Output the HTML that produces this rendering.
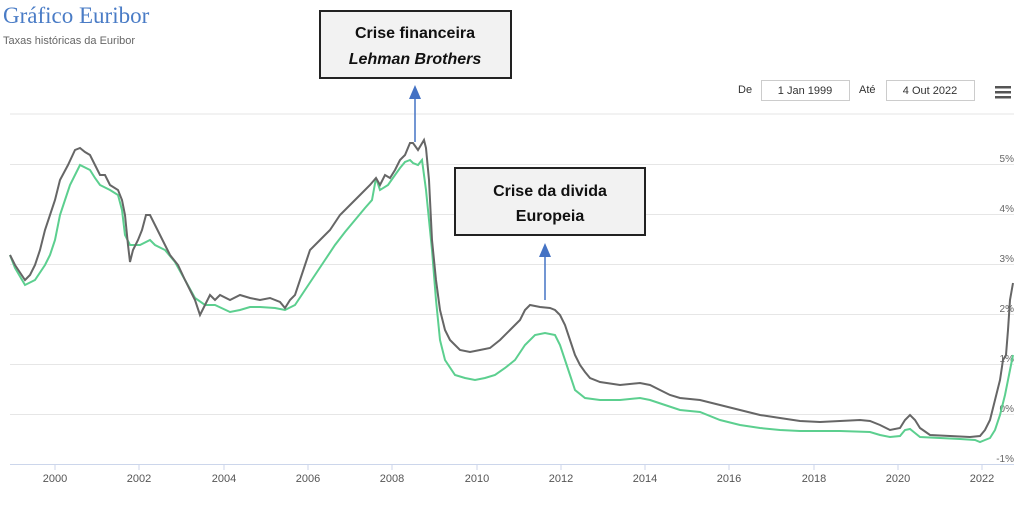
<!DOCTYPE html><html><head><style>body{margin:0;background:#fff;width:1024px;height:500px;overflow:hidden;font-family:"Liberation Sans",sans-serif}</style></head><body>
<svg width="1024" height="500" xmlns="http://www.w3.org/2000/svg" font-family="Liberation Sans, sans-serif">
<text x="3" y="23" font-family="Liberation Serif, serif" font-size="23" fill="#4a7cc6">Gráfico Euribor</text>
<text x="3" y="44" font-size="11" fill="#666">Taxas históricas da Euribor</text>
<text x="738" y="93" font-size="11" fill="#333">De</text>
<rect x="761.5" y="80.5" width="88" height="20" fill="#fff" stroke="#ccc"/>
<text x="805" y="94" font-size="11" fill="#333" text-anchor="middle">1 Jan 1999</text>
<text x="859" y="93" font-size="11" fill="#333">Até</text>
<rect x="886.5" y="80.5" width="88" height="20" fill="#fff" stroke="#ccc"/>
<text x="930" y="94" font-size="11" fill="#333" text-anchor="middle">4 Out 2022</text>
<g fill="#555"><rect x="995" y="86" width="16" height="2.5"/><rect x="995" y="91" width="16" height="2.5"/><rect x="995" y="96" width="16" height="2.5"/></g>
<g stroke="#e6e6e6" stroke-width="1"><line x1="10" y1="114" x2="1014" y2="114"/><line x1="10" y1="164.5" x2="1014" y2="164.5"/><line x1="10" y1="214.5" x2="1014" y2="214.5"/><line x1="10" y1="264.5" x2="1014" y2="264.5"/><line x1="10" y1="314.5" x2="1014" y2="314.5"/><line x1="10" y1="364.5" x2="1014" y2="364.5"/><line x1="10" y1="414.5" x2="1014" y2="414.5"/></g>
<line x1="10" y1="464.5" x2="1014" y2="464.5" stroke="#ccd6eb"/>
<g font-size="10" fill="#666" text-anchor="end"><text x="1014" y="162">5%</text><text x="1014" y="212">4%</text><text x="1014" y="262">3%</text><text x="1014" y="312">2%</text><text x="1014" y="362">1%</text><text x="1014" y="412">0%</text><text x="1014" y="462">-1%</text></g>
<g font-size="11" fill="#555" text-anchor="middle"><text x="55" y="482">2000</text><text x="139" y="482">2002</text><text x="224" y="482">2004</text><text x="308" y="482">2006</text><text x="392" y="482">2008</text><text x="477" y="482">2010</text><text x="561" y="482">2012</text><text x="645" y="482">2014</text><text x="729" y="482">2016</text><text x="814" y="482">2018</text><text x="898" y="482">2020</text><text x="982" y="482">2022</text></g>
<g stroke="#ccd6eb"><line x1="55" y1="465" x2="55" y2="470"/><line x1="139" y1="465" x2="139" y2="470"/><line x1="224" y1="465" x2="224" y2="470"/><line x1="308" y1="465" x2="308" y2="470"/><line x1="392" y1="465" x2="392" y2="470"/><line x1="477" y1="465" x2="477" y2="470"/><line x1="561" y1="465" x2="561" y2="470"/><line x1="645" y1="465" x2="645" y2="470"/><line x1="729" y1="465" x2="729" y2="470"/><line x1="814" y1="465" x2="814" y2="470"/><line x1="898" y1="465" x2="898" y2="470"/><line x1="982" y1="465" x2="982" y2="470"/></g>
<polyline fill="none" stroke="#5ccf8f" stroke-width="2" points="10,255 15,268 25,285 35,280 45,265 50,255 55,240 60,215 65,200 70,185 80,165 90,170 95,178 100,185 110,190 118,195 122,210 125,235 130,245 140,245 150,240 155,245 165,250 175,262 185,280 195,298 205,305 215,305 230,312 240,310 250,307 260,307 275,308 285,310 295,305 305,290 315,275 325,260 335,245 345,232 355,220 365,208 372,200 376,178 380,190 388,185 395,175 400,168 405,162 410,160 413,163 418,165 422,160 426,190 432,250 436,300 440,340 445,360 455,375 465,378 475,380 485,378 495,375 505,368 515,360 525,345 535,335 545,333 555,335 560,345 565,360 570,375 575,390 585,398 600,400 620,400 640,398 650,400 665,405 680,410 700,412 720,420 740,425 760,428 780,430 800,431 840,431 870,432 880,435 890,437 900,436 905,430 910,429 915,433 920,437 940,438 960,439 975,440 980,442 985,440 990,438 995,430 1000,415 1005,395 1010,370 1013,355"/>
<polyline fill="none" stroke="#666" stroke-width="2" points="10,255 15,265 25,280 30,275 35,265 40,250 45,230 50,215 55,200 60,180 68,165 75,150 80,148 85,152 90,155 95,165 100,175 105,175 110,185 118,190 122,200 125,215 128,245 130,262 133,250 138,240 142,230 146,215 150,215 155,225 160,235 165,245 170,255 178,265 185,280 190,290 195,300 200,315 205,305 210,295 215,300 220,295 230,300 240,295 250,298 260,300 270,298 280,302 285,308 290,300 295,295 300,280 305,265 310,250 320,240 330,230 340,215 350,205 360,195 370,185 376,178 380,185 385,175 390,178 395,170 400,160 405,155 410,143 413,143 418,150 424,140 426,148 429,180 432,240 436,280 440,310 445,330 450,340 455,345 460,350 470,352 480,350 490,348 500,340 510,330 520,320 525,310 530,305 540,307 550,308 555,310 560,315 565,325 570,340 575,355 580,365 585,372 590,378 600,382 620,385 640,383 650,385 660,390 670,395 680,398 700,400 720,405 740,410 760,415 780,418 800,421 820,422 840,421 860,420 870,421 880,425 890,430 900,428 905,420 910,415 915,420 920,428 930,435 950,436 970,437 980,436 985,430 990,420 995,400 1000,380 1003,360 1006,355 1008,330 1010,300 1013,283"/>
<line x1="415" y1="142" x2="415" y2="95" stroke="#4472c4" stroke-width="1.5"/><polygon points="409,99 421,99 415,85" fill="#4472c4"/>
<line x1="545" y1="300" x2="545" y2="253" stroke="#4472c4" stroke-width="1.5"/><polygon points="539,257 551,257 545,243" fill="#4472c4"/>
<rect x="320" y="11" width="191" height="67" fill="#f2f2f2" stroke="#222" stroke-width="2"/>
<text x="415" y="38" font-size="16" font-weight="bold" text-anchor="middle" fill="#111">Crise financeira</text>
<text x="415" y="64" font-size="16" font-weight="bold" font-style="italic" text-anchor="middle" fill="#111">Lehman Brothers</text>
<rect x="455" y="168" width="190" height="67" fill="#f2f2f2" stroke="#222" stroke-width="2"/>
<text x="550" y="196" font-size="16" font-weight="bold" text-anchor="middle" fill="#111">Crise da divida</text>
<text x="550" y="221" font-size="16" font-weight="bold" text-anchor="middle" fill="#111">Europeia</text>
</svg></body></html>
